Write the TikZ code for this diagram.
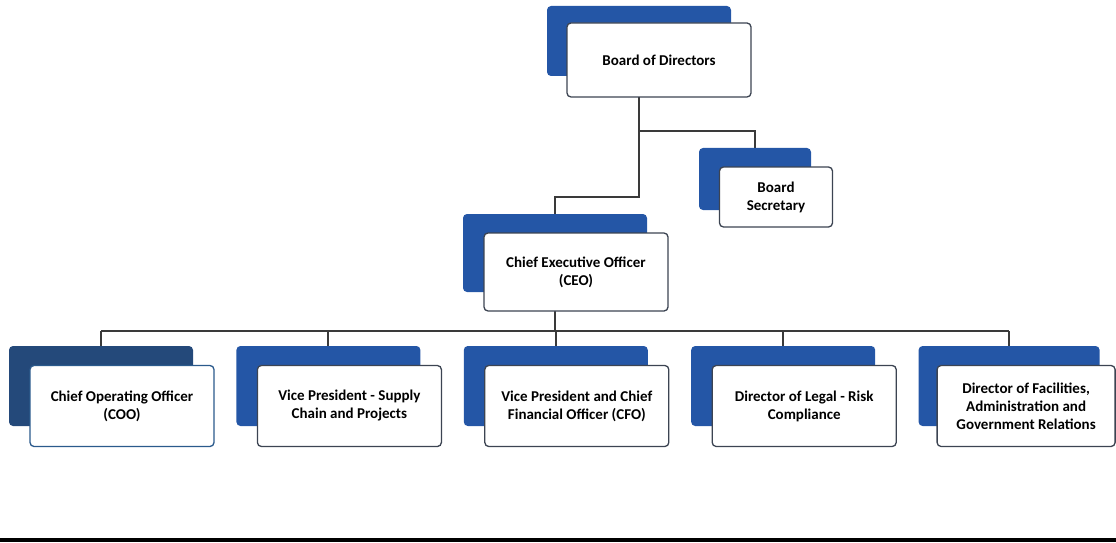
\documentclass[tikz,border=0pt]{standalone}
\usepackage{fontspec}
\setmainfont{Carlito}
\usetikzlibrary{positioning, backgrounds}

\definecolor{cardblue}{HTML}{2456A6}
\definecolor{navyblue}{HTML}{24497A}
\definecolor{rimgray}{HTML}{3C4452}
\definecolor{rimblue}{HTML}{2B5A8C}
\definecolor{linkgray}{HTML}{3A3A3A}

\begin{document}
\begin{tikzpicture}[
    x=1pt, y=1pt,
    font=\bfseries\fontsize{15}{18}\selectfont,
    node distance=43pt,
    back/.style={
      fill=cardblue,
      rounded corners=4pt,
      minimum width=184pt,
      minimum height=80pt,
      inner sep=0pt
    },
    front/.style={
      draw=rimgray,
      line width=1.3pt,
      fill=white,
      rounded corners=4pt,
      align=center,
      minimum width=184pt,
      minimum height=81pt,
      inner sep=2pt,
      text=black
    },
    link/.style={draw=linkgray, line width=2pt}
  ]

  \useasboundingbox (0,0) rectangle (1116,542);

  % ===================== 董事会 =====================
  \node[back, minimum height=70pt] (boardB) at (639,501) {};
  \node[front, minimum height=74pt] (board) at ([shift={(20,-19)}]boardB.center) {Board of Directors};

  \node[back, minimum width=112pt, minimum height=62pt] (secB) at (755,363) {};
  \node[front, minimum width=113pt, minimum height=60pt] (sec) at ([shift={(21,-18)}]secB.center) {Board\\Secretary};

  % ===================== CEO =====================
  \node[back, minimum height=78pt] (ceoB) at (555,289) {};
  \node[front, minimum height=78pt] (ceo) at ([shift={(21,-19)}]ceoB.center) {Chief Executive Officer\\(CEO)};

  % ===================== 下层 =====================
  \node[back, fill=navyblue] (cooB) at (101,156) {};
  \node[back, right=of cooB] (vpsB) {};
  \node[back, right=of vpsB] (cfoB) {};
  \node[back, right=of cfoB] (legalB) {};
  \node[back, right=of legalB, minimum width=181pt] (facB) {};

  \node[front, draw=rimblue] (coo) at ([shift={(21,-20)}]cooB.center) {Chief Operating Officer\\(COO)};
  \node[front] (vps) at ([shift={(21,-20)}]vpsB.center) {Vice President - Supply\\Chain and Projects};
  \node[front] (cfo) at ([shift={(21,-20)}]cfoB.center) {Vice President and Chief\\Financial Officer (CFO)};
  \node[front] (legal) at ([shift={(21,-20)}]legalB.center) {Director of Legal - Risk\\Compliance};
  \node[front, minimum width=178pt] (fac) at ([shift={(17,-20)}]facB.center) {Director of Facilities,\\Administration and\\Government Relations};

  % ===================== 连线 =====================
  \begin{scope}[on background layer]
    \draw[link] (boardB.south) -- ++(0,-121) -| (ceoB.north);
    \draw[link] ([yshift=-55]boardB.south) -| (secB.north);
    \draw[link] (ceoB.south) -- ++(0,-39) coordinate (bus);
    \draw[link] (bus -| cooB.north) -- (bus -| facB.north);
    \foreach \n in {cooB, vpsB, cfoB, legalB, facB}
      \draw[link] (bus -| \n.north) -- (\n.north);
  \end{scope}

  \draw[line width=4pt] (0,2.5) -- (1116,2.5);

\end{tikzpicture}
\end{document}
